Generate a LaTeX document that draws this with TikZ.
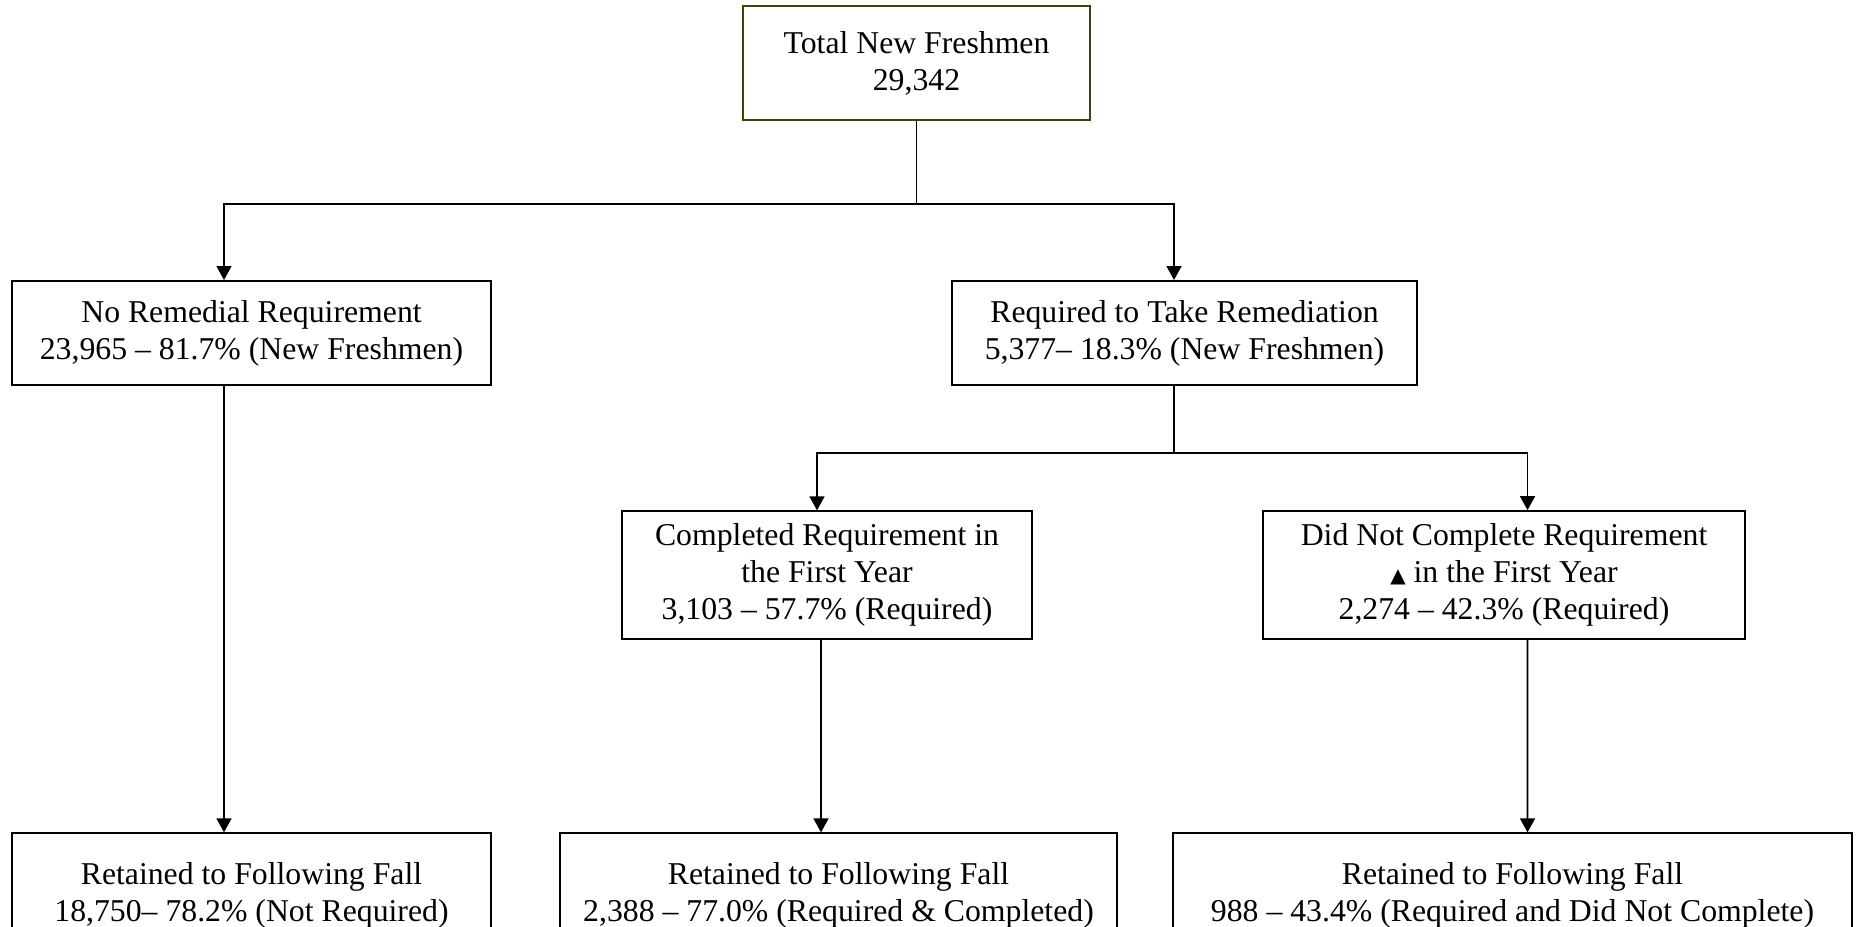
\documentclass[tikz,border=0pt]{standalone}
\usepackage{fontspec}
\setmainfont{Liberation Serif}
\newfontfamily\symfont{DejaVu Sans}
\usetikzlibrary{arrows.meta}
\definecolor{olivebox}{RGB}{64,64,16}

\begin{document}
\begin{tikzpicture}[->,>={Triangle[length=5.6pt,width=6pt]},x=0.4pt,y=-0.4pt,line width=0.65pt,
    box/.style={draw,rectangle,align=center,inner sep=2pt,line width=0.5pt,
      font=\fontsize{12.7}{14.8}\selectfont},
    elbow/.style={to path={-| (\tikztotarget)}}]

    \useasboundingbox (0,0) rectangle (1858,926);
    \clip (0,0) rectangle (1858,926);

    \node[box, draw=olivebox, line width=1pt, minimum width=138.8pt, minimum height=45.6pt] (total) at (916.5,63) {Total New Freshmen\\29,342};

    \node[box, line width=0.8pt, minimum width=191.6pt, minimum height=41.6pt] (noreq) at (251.5,333) {No Remedial Requirement\\23,965 -- 81.7\% (New Freshmen)};
    \node[box, line width=0.8pt, minimum width=186pt, minimum height=41.6pt] (reqrem) at (1184.5,333) {Required to Take Remediation\\5,377-- 18.3\% (New Freshmen)};

    \node[box, minimum width=164pt, minimum height=51.2pt] (comp) at (827,575) {Completed Requirement in\\the First Year\\3,103 -- 57.7\% (Required)};
    \node[box, line width=0.7pt, minimum width=192.8pt, minimum height=51.2pt] (notcomp) at (1504,575) {Did Not Complete Requirement\\{\symfont\fontsize{8}{9}\selectfont ▲} in the First Year\\2,274 -- 42.3\% (Required)};

    \node[box, minimum width=191.6pt, minimum height=50pt] (retnoreq) at (251.5,895.5) {Retained to Following Fall\\18,750-- 78.2\% (Not Required)};
    \node[box, minimum width=222.8pt, minimum height=50pt] (retcomp) at (838.5,895.5) {Retained to Following Fall\\2,388 -- 77.0\% (Required \& Completed)};
    \node[box, minimum width=271.6pt, minimum height=50pt] (retnotcomp) at (1512.5,895.5) {Retained to Following Fall\\988 -- 43.4\% (Required and Did Not Complete)};

    \coordinate (split1) at (916.5,204);
    \coordinate (split2) at (1174,453);

    \path
    (total) edge[-] (split1)
    (split1) edge[elbow] ([xshift=-11pt]noreq.north)
             edge[elbow] ([xshift=-4.2pt]reqrem.north)
    ([xshift=-4.2pt]reqrem.south) edge[-] (split2)
    (split2) edge[elbow] ([xshift=-4pt]comp.north)
             edge[elbow] ([xshift=9.4pt]notcomp.north)
    ([xshift=-11pt]noreq.south) edge ([xshift=-11pt]retnoreq.north)
    ([xshift=-2.4pt]comp.south) edge ([xshift=-7pt]retcomp.north)
    ([xshift=9.4pt]notcomp.south) edge ([xshift=6pt]retnotcomp.north)
    ;
\end{tikzpicture}
\end{document}
